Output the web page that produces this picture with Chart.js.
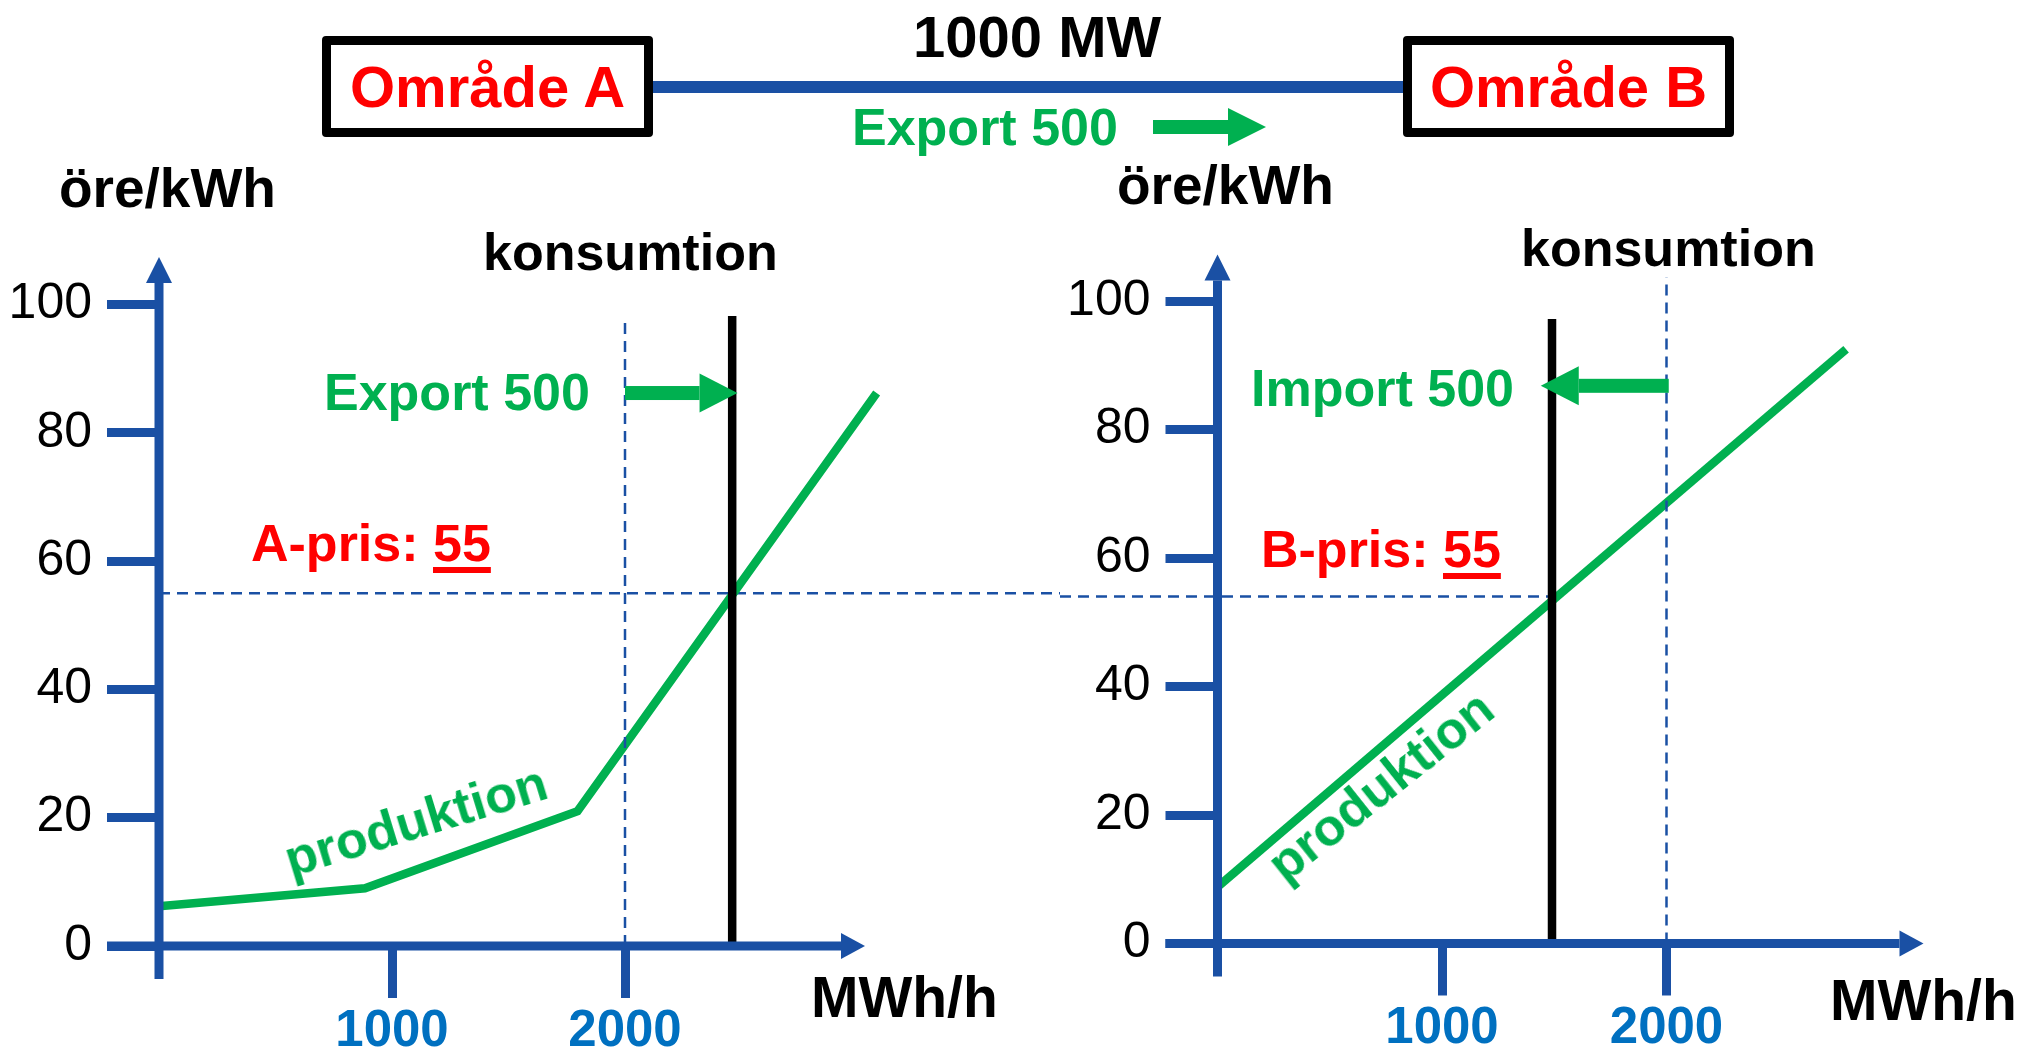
<!DOCTYPE html>
<html>
<head>
<meta charset="utf-8">
<script src="https://cdn.jsdelivr.net/npm/chart.js@4.4.1/dist/chart.umd.min.js"></script>
<style>
body { margin: 0; background: #fff; }
#page { position: relative; width: 2024px; height: 1056px; overflow: hidden; font-family: 'Liberation Sans', Arial, sans-serif; font-weight: bold; color: #000; }
canvas { position: absolute; top: 0; }
#chartA { left: 0; }
#chartB { left: 1060px; }
.t { position: absolute; line-height: 1; white-space: nowrap; }
.rot { transform-origin: 0 0.8465em; }
.u { text-decoration: underline; text-decoration-thickness: 6px; text-underline-offset: 6px; }
.box { position: absolute; top: 36px; width: 331px; height: 101px; border: 9px solid #000; border-radius: 4px; box-sizing: border-box;
       display: flex; align-items: center; justify-content: center; color: #f00; font-size: 58px; line-height: 1; }
</style>
</head>
<body>
<div id="page">
  <canvas id="chartA" width="1060" height="1056"></canvas>
  <canvas id="chartB" width="964" height="1056"></canvas>

  <!-- top: the link between the two areas -->
  <div style="position:absolute;left:652px;top:81px;width:751px;height:12px;background:#1a50a4"></div>
  <div class="box" style="left:322px">Område A</div>
  <div class="box" style="left:1403px">Område B</div>
  <svg style="position:absolute;left:0;top:0" width="2024" height="200">
    <polygon points="1153,120 1228,120 1228,108 1266,127 1228,146 1228,134 1153,134" fill="#00b050"/>
  </svg>

  <div class="t" style="left:913px;top:8px;font-size:58px">1000 MW</div>
  <div class="t" style="left:852px;top:101px;font-size:52px;color:#00b050">Export 500</div>

  <div class="t" style="left:59px;top:161px;font-size:55px">öre/kWh</div>
  <div class="t" style="left:1117px;top:158px;font-size:55px">öre/kWh</div>
  <div class="t" style="left:483px;top:226px;font-size:52px">konsumtion</div>
  <div class="t" style="left:1521px;top:222px;font-size:52px">konsumtion</div>
  <div class="t" style="left:324px;top:366px;font-size:52px;color:#00b050">Export 500</div>
  <div class="t" style="left:1251px;top:362px;font-size:52px;color:#00b050">Import 500</div>
  <div class="t" style="left:251px;top:517px;font-size:52px;color:#f00">A-pris: <span class="u">55</span></div>
  <div class="t" style="left:1261px;top:523px;font-size:52px;color:#f00">B-pris: <span class="u">55</span></div>
  <div class="t rot" style="left:291px;top:833px;font-size:52px;color:#00b050;transform:rotate(-17deg)">produktion</div>
  <div class="t rot" style="left:1285px;top:840px;font-size:52px;color:#00b050;transform:rotate(-38.5deg)">produktion</div>
  <div class="t" style="left:811px;top:969px;font-size:57px">MWh/h</div>
  <div class="t" style="left:1830px;top:972px;font-size:57px">MWh/h</div>
</div>

<script>
// ---------- DATA ----------

const xTicks = [1000, 2000];          // MWh/h
const yStep = 20;                     // öre/kWh

// Område A
const prodAx = [0, 884, 1796, 3080];
const prodAy = [6.2, 9.0, 21.0, 86.2];
const consA = 2460, consATop = 98.2;
const refA = 2000, refATop = 97.9;    // dashed line at 2000
const exportA = [2000, 2483], exportLevelA = 86.2;
const priceLineA = 55;

// Område B
const prodBx = [0, 2800];
const prodBy = [8.8, 92.5];
const consB = 1490, consBTop = 97.2;
const refB = 2000, refBTop = 103.7;
const importB = [2010, 1440], importLevelB = 86.8;
const priceLineB = 54;                // dashed line sits a bit lower on the B side

// ---------- STYLE ----------

const axisBlue = '#1a50a4';
const green = '#00b050';
const xMax = 3200;

Chart.defaults.font.family = "'Liberation Sans', Arial, sans-serif";

const pts = (xs, ys) => xs.map((x, i) => ({ x: x, y: ys[i] }));

function line(points, color, width, dash) {
  return {
    data: points,
    showLine: true,
    borderColor: color,
    borderWidth: width,
    borderDash: dash || [],
    pointRadius: 0,
    clip: false,
    borderCapStyle: 'butt',
    borderJoinStyle: 'miter'
  };
}

// axes with arrow heads, price line and the export/import arrow
const diagram = {
  id: 'diagram',
  beforeDatasetsDraw(chart, args, o) {
    const ctx = chart.ctx, x = chart.scales.x, y = chart.scales.y;
    const yp = y.getPixelForValue(o.price);
    const x1 = o.extendLeft ? 0 : x.getPixelForValue(o.priceFrom);
    const x2 = o.extendRight ? chart.width : x.getPixelForValue(o.priceTo);
    ctx.save();
    ctx.strokeStyle = axisBlue;
    ctx.lineWidth = 2.5;
    ctx.setLineDash([11, 7]);
    ctx.beginPath();
    ctx.moveTo(x1, yp);
    ctx.lineTo(x2, yp);
    ctx.stroke();
    ctx.restore();
  },
  afterDatasetsDraw(chart, args, o) {
    const ctx = chart.ctx, x = chart.scales.x, y = chart.scales.y;
    const x0 = x.getPixelForValue(0), y0 = y.getPixelForValue(0);
    ctx.save();
    ctx.fillStyle = axisBlue;
    // y axis
    ctx.fillRect(x0 - 4.5, y0 - 663, 9, 663 + 33);
    ctx.beginPath();
    ctx.moveTo(x0, y0 - 689);
    ctx.lineTo(x0 - 13, y0 - 663);
    ctx.lineTo(x0 + 13, y0 - 663);
    ctx.fill();
    // x axis
    ctx.fillRect(x0 - 52, y0 - 4.5, 52 + 682, 9);
    ctx.beginPath();
    ctx.moveTo(x0 + 706, y0);
    ctx.lineTo(x0 + 682, y0 - 13);
    ctx.lineTo(x0 + 682, y0 + 13);
    ctx.fill();

    // green arrow
    const a = o.arrow;
    const ya = y.getPixelForValue(a.level);
    const xs = x.getPixelForValue(a.from), xt = x.getPixelForValue(a.to);
    const dir = Math.sign(xt - xs), head = 38;
    const xb = xt - dir * head;
    ctx.fillStyle = green;
    ctx.fillRect(Math.min(xs, xb), ya - 7, Math.abs(xb - xs), 14);
    ctx.beginPath();
    ctx.moveTo(xt, ya);
    ctx.lineTo(xb, ya - 19.5);
    ctx.lineTo(xb, ya + 19.5);
    ctx.fill();
    ctx.restore();
  }
};

function buildChart(id, g, datasets, diag) {
  return new Chart(document.getElementById(id), {
    type: 'scatter',
    data: { datasets: datasets },
    options: {
      responsive: false,
      animation: false,
      devicePixelRatio: 1,
      layout: { padding: { left: 0, top: g.top, right: g.right, bottom: 0 } },
      plugins: {
        legend: { display: false },
        tooltip: { enabled: false },
        diagram: diag
      },
      scales: {
        x: {
          type: 'linear',
          min: 0,
          max: xMax,
          afterFit: s => { s.height = g.xHeight; },
          afterBuildTicks: s => { s.ticks = xTicks.map(v => ({ value: v })); },
          grid: { drawOnChartArea: false, tickLength: 52, tickWidth: 9, tickColor: axisBlue },
          border: { display: false },
          ticks: {
            padding: 3,
            color: '#0070c0',
            font: { size: 51, weight: 'bold' },
            callback: v => String(v)
          }
        },
        y: {
          min: 0,
          max: 100,
          afterFit: s => { s.width = g.left; },
          grid: { drawOnChartArea: false, tickLength: 52, tickWidth: 9, tickColor: axisBlue },
          border: { display: false },
          ticks: { stepSize: yStep, padding: 15, color: '#000', font: { size: 50 } }
        }
      }
    },
    plugins: [diagram]
  });
}

buildChart('chartA',
  { left: 159, top: 304.5, xHeight: 110, right: 1060 - (159 + xMax * 0.233) },
  [
    line(pts([refA, refA], [0, refATop]), axisBlue, 2.5, [11, 7]),
    line(pts([consA, consA], [0, consATop]), '#000', 8.5),
    line(pts(prodAx, prodAy), green, 8.5)
  ],
  { price: priceLineA, priceFrom: 0, extendRight: true,
    arrow: { from: exportA[0], to: exportA[1], level: exportLevelA } }
);

buildChart('chartB',
  { left: 157.5, top: 301, xHeight: 112.5, right: 964 - (157.5 + xMax * 0.2245) },
  [
    line(pts([refB, refB], [0, refBTop]), axisBlue, 2.5, [11, 7]),
    line(pts([consB, consB], [0, consBTop]), '#000', 8.5),
    line(pts(prodBx, prodBy), green, 8.5)
  ],
  { price: priceLineB, priceTo: consB, extendLeft: true,
    arrow: { from: importB[0], to: importB[1], level: importLevelB } }
);
</script>
</body>
</html>
